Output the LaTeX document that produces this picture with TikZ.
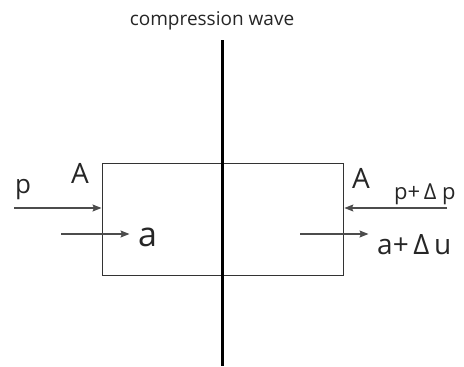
\documentclass[tikz,border=0pt]{standalone}
\usepackage{fontspec}
\setmainfont{Open Sans}
\usetikzlibrary{arrows.meta}
\begin{document}
\begin{tikzpicture}[x=1pt,y=-1pt,
  lbl/.style={inner sep=0pt,text=black!85},
  flow/.style={draw=black!70,line width=1.1pt,-{Stealth[length=9pt,width=7pt,inset=1.5pt]},shorten >=0.5pt},
  wall/.style={draw=black!80,line width=0.9pt,inner sep=0pt,minimum width=241pt,minimum height=112pt},
  wave/.style={draw=black,line width=3pt}
]
\useasboundingbox (0,0) rectangle (464,367);
\node[wall,anchor=north west] (box) at (102,163) {};
\coordinate (wtop) at (222,40);
\coordinate (wbot) at (222,366);
\draw[wave] (wtop) -- (wbot);
\node[lbl,anchor=base,font=\fontsize{19}{19}\selectfont] (title) at (212,25) {compression wave};
% left side
\coordinate (pl) at (14,208);
\draw[flow] (pl) -- (box.west |- pl);
\coordinate (al1) at (61,234);
\coordinate (al2) at (130,234);
\draw[flow] (al1) -- (al2);
\node[lbl,anchor=base west,font=\fontsize{26}{26}\selectfont] (plab) at (15,193) {p};
\node[lbl,anchor=base west,font=\fontsize{28}{28}\selectfont] (Al) at (71,183) {A};
\node[lbl,anchor=base west,font=\fontsize{34}{34}\selectfont] (alab) at (138,246) {a};
% right side
\coordinate (pr) at (447,208);
\draw[flow] (pr) -- (box.east |- pr);
\coordinate (ar1) at (300,234);
\coordinate (ar2) at (369,234);
\draw[flow] (ar1) -- (ar2);
\node[lbl,anchor=base west,font=\fontsize{28}{28}\selectfont] (Ar) at (352,188) {A};
\node[lbl,anchor=base west,font=\fontsize{22}{22}\selectfont] (prlab) at (394,199) {p+\,Δ p};
\node[lbl,anchor=base west,font=\fontsize{28}{28}\selectfont] (arlab) at (377,254) {a+\,Δ\,u};
\end{tikzpicture}
\end{document}
